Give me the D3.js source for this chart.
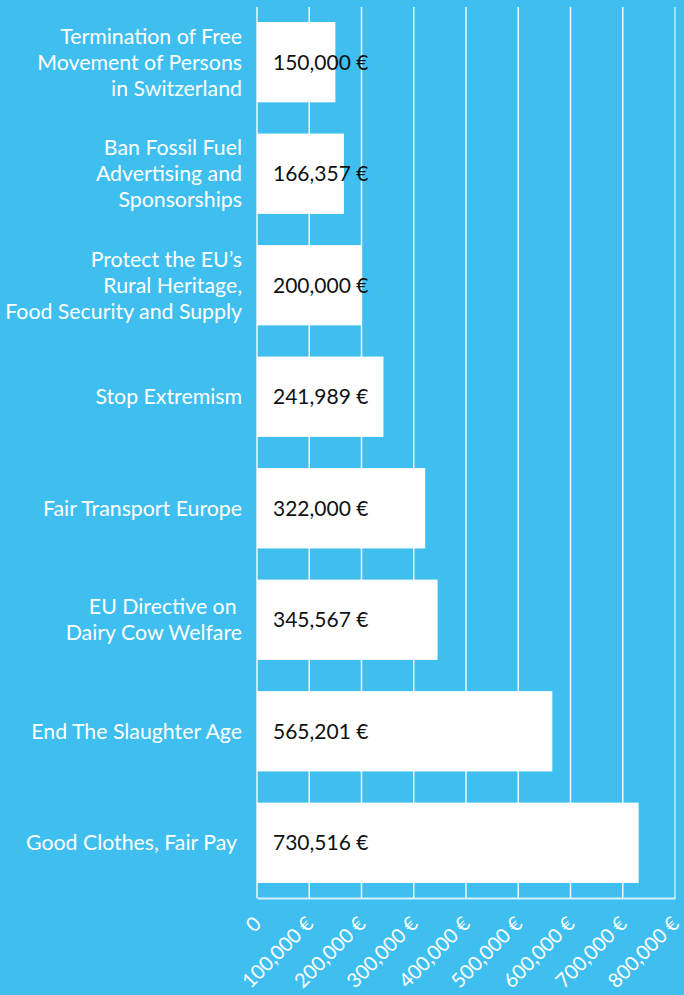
<!DOCTYPE html>
<html>
<head>
<meta charset="utf-8">
<script src="https://cdn.jsdelivr.net/npm/d3@7"></script>
<style>
  body { margin: 0; background: #3ebff0; }
  svg { display: block; font-family: Lato, "Open Sans", sans-serif; }
</style>
</head>
<body>
<div id="container"></div>
<script>
/* DATA */
const initiatives = [
  ["Termination of Free", "Movement of Persons", "in Switzerland"],
  ["Ban Fossil Fuel", "Advertising and", "Sponsorships"],
  ["Protect the EU\u2019s", "Rural Heritage,", "Food Security and Supply"],
  ["Stop Extremism"],
  ["Fair Transport Europe"],
  ["EU Directive on ", "Dairy Cow Welfare"],
  ["End The Slaughter Age"],
  ["Good Clothes, Fair Pay "]
];
const amounts = [150000, 166357, 200000, 241989, 322000, 345567, 565201, 730516];
const tickValues = [0, 100000, 200000, 300000, 400000, 500000, 600000, 700000, 800000];

/* CONSTANTS */
const width = 684, height = 995;
const margin = { top: 7, right: 9, bottom: 97, left: 257 };
const fmt = d3.format(",");

const svg = d3.select("#container")
  .append("svg")
  .attr("width", width)
  .attr("height", height);

const xScale = d3.scaleLinear()
  .domain([0, 800000])
  .range([margin.left, width - margin.right]);

const yScale = d3.scaleBand()
  .domain(d3.range(amounts.length))
  .range([margin.top, height - margin.bottom])
  .paddingInner(0.28)
  .paddingOuter(0.135);

// gridlines
svg.selectAll(".grid")
  .data(tickValues)
  .join("line")
  .attr("class", "grid")
  .attr("x1", d => xScale(d))
  .attr("x2", d => xScale(d))
  .attr("y1", margin.top)
  .attr("y2", height - margin.bottom)
  .attr("stroke", d => d === 800000 ? "#d8f1fb" : "#ffffff")
  .attr("stroke-opacity", 0.9)
  .attr("stroke-width", 1.5);

// bars
svg.selectAll(".bar")
  .data(amounts)
  .join("rect")
  .attr("class", "bar")
  .attr("x", xScale(0))
  .attr("y", (_, i) => yScale(i))
  .attr("width", d => xScale(d) - xScale(0))
  .attr("height", yScale.bandwidth())
  .attr("fill", "#ffffff");

// value labels
svg.selectAll(".value")
  .data(amounts)
  .join("text")
  .attr("class", "value")
  .attr("x", xScale(0) + 16)
  .attr("y", (_, i) => yScale(i) + yScale.bandwidth() / 2)
  .attr("dy", "0.35em")
  .attr("fill", "#111")
  .style("font-size", "21px")
  .text(d => `${fmt(d)} \u20ac`);

// category labels
const lineH = 26;
svg.selectAll(".cat")
  .data(initiatives)
  .join("text")
  .attr("class", "cat")
  .attr("text-anchor", "end")
  .attr("fill", "#ffffff")
  .style("font-size", "21.3px")
  .style("white-space", "pre")
  .each(function (lines, i) {
    const cy = yScale(i) + yScale.bandwidth() / 2;
    d3.select(this).selectAll("tspan")
      .data(lines)
      .join("tspan")
      .attr("x", 242)
      .attr("y", (_, j) => cy + (j - (lines.length - 1) / 2) * lineH)
      .attr("dy", "0.35em")
      .text(d => d);
  });

// x axis
const axis = svg.append("g")
  .attr("transform", `translate(0,${height - margin.bottom})`)
  .call(d3.axisBottom(xScale)
    .tickValues(tickValues)
    .tickSize(0)
    .tickFormat(d => d === 0 ? "0" : `${fmt(d)} \u20ac`));

axis.select(".domain")
  .attr("stroke", "#d8f1fb")
  .attr("stroke-width", 2);

axis.selectAll("text")
  .attr("fill", "#ffffff")
  .style("font-size", "20px")
  .style("font-family", "Lato, sans-serif")
  .attr("text-anchor", "end")
  .attr("dy", null)
  .attr("y", 0)
  .attr("transform", "translate(5,27) rotate(-45)");
</script>
</body>
</html>
